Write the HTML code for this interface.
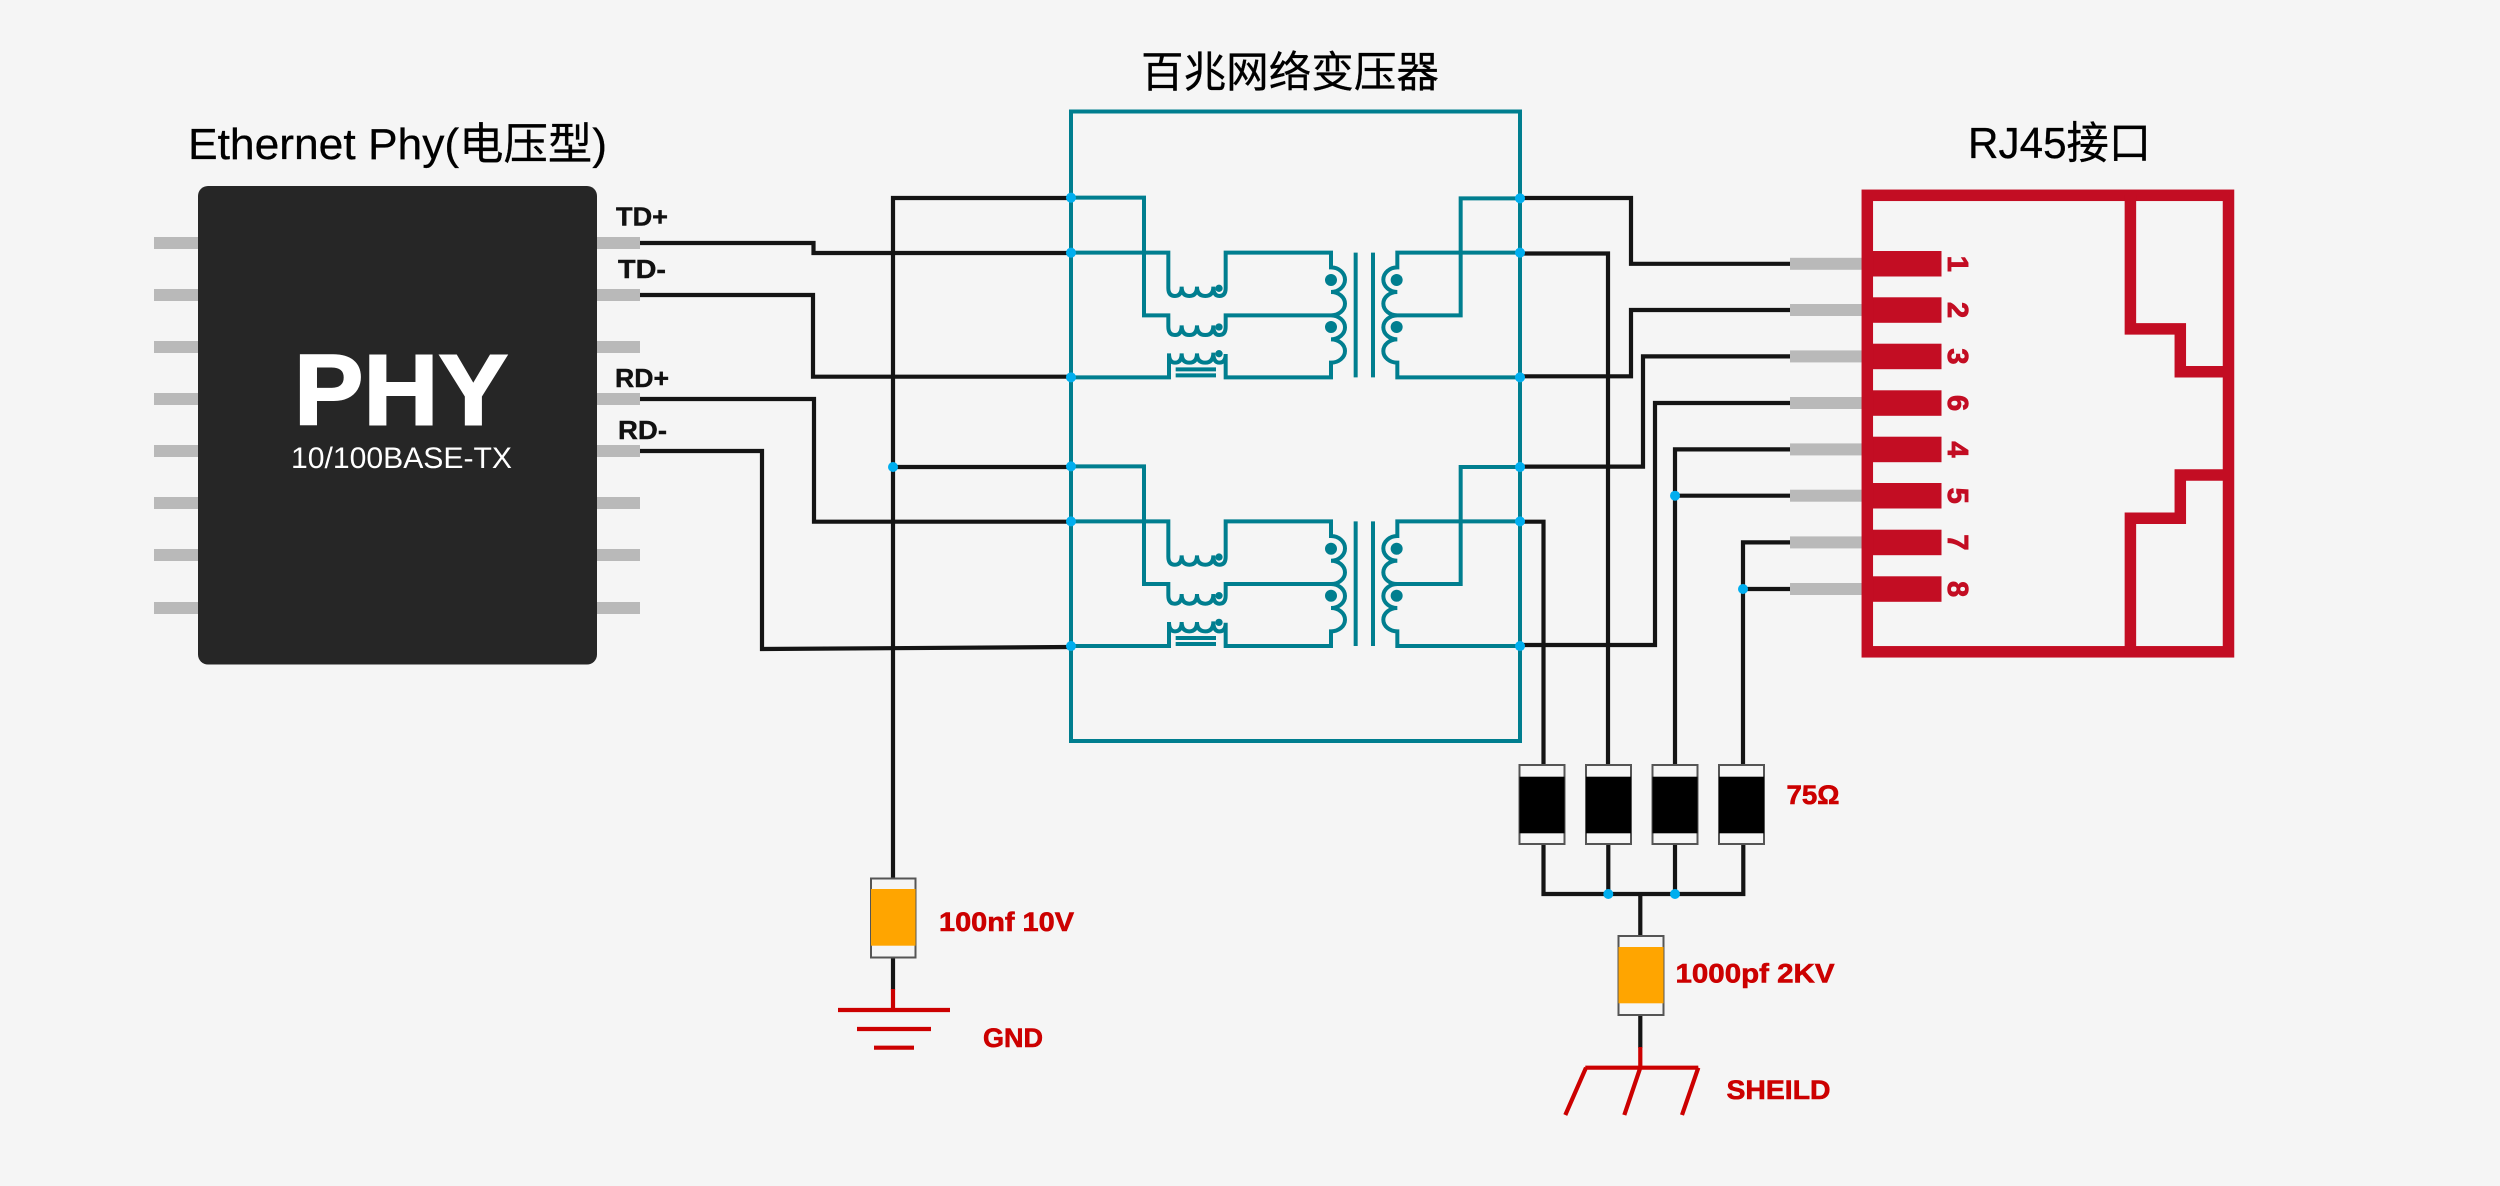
<!DOCTYPE html>
<html lang="zh"><head><meta charset="utf-8"><title>百兆网络变压器</title>
<style>
html,body{margin:0;padding:0;background:#f5f5f5;width:2500px;height:1186px;overflow:hidden}
svg{display:block}
text{font-family:"Liberation Sans","Noto Sans CJK SC",sans-serif}
.t{font-size:44px;fill:#000;stroke:#000;stroke-width:.3}
.b{font-size:26px;font-weight:700;fill:#111;stroke:#111;stroke-width:.4}
.r{font-size:27px;font-weight:700;fill:#cc0000;stroke:#cc0000;stroke-width:.6}
.d{font-size:29px;font-weight:700;fill:#c30d23;stroke:#c30d23;stroke-width:.9;text-anchor:middle}
.w{fill:none;stroke:#141414;stroke-width:4.200}
.p{fill:#b9b9b9}
.c{fill:#f5f5f5;stroke:#555;stroke-width:2}
.k{fill:none;stroke:#cc0000;stroke-width:4.200}
.j{fill:#00aeef}
</style></head><body>
<svg width="2500" height="1186" viewBox="0 0 2500 1186" xmlns="http://www.w3.org/2000/svg">
<rect width="2500" height="1186" fill="#f5f5f5"/>

<text class="t" x="188" y="159" textLength="419" lengthAdjust="spacingAndGlyphs">Ethernet Phy(电压型)</text>
<text class="t" x="1141" y="87" textLength="298" lengthAdjust="spacingAndGlyphs" style="font-size:42.500px">百兆网络变压器</text>
<text class="t" x="1968" y="158" textLength="183" lengthAdjust="spacingAndGlyphs">RJ45接口</text>

<!-- PHY pins -->
<g class="p">
<rect x="154" y="237" width="44" height="12"/><rect x="154" y="289" width="44" height="12"/><rect x="154" y="341" width="44" height="12"/><rect x="154" y="393" width="44" height="12"/><rect x="154" y="445" width="44" height="12"/><rect x="154" y="497" width="44" height="12"/><rect x="154" y="549" width="44" height="12"/><rect x="154" y="602" width="44" height="12"/>
<rect x="597" y="237" width="43" height="12"/><rect x="597" y="289" width="43" height="12"/><rect x="597" y="341" width="43" height="12"/><rect x="597" y="393" width="43" height="12"/><rect x="597" y="445" width="43" height="12"/><rect x="597" y="497" width="43" height="12"/><rect x="597" y="549" width="43" height="12"/><rect x="597" y="602" width="43" height="12"/>
</g>
<rect x="198" y="186" width="399" height="478.500" rx="10" fill="#262626"/>
<text x="294" y="424.500" font-size="100" font-weight="700" fill="#fff" stroke="#fff" stroke-width="2" textLength="214" lengthAdjust="spacingAndGlyphs">PHY</text>
<text x="291" y="468" font-size="30" fill="#fff" textLength="221" lengthAdjust="spacingAndGlyphs">10/100BASE-TX</text>
<text class="b" x="616" y="225.500" textLength="52" lengthAdjust="spacingAndGlyphs">TD+</text>
<text class="b" x="618" y="278" textLength="48" lengthAdjust="spacingAndGlyphs">TD-</text>
<text class="b" x="615" y="387" textLength="54" lengthAdjust="spacingAndGlyphs">RD+</text>
<text class="b" x="618" y="439" textLength="49" lengthAdjust="spacingAndGlyphs">RD-</text>

<!-- black wires -->
<g class="w">
<path d="M640,243H813.500V253H1071"/>
<path d="M640,295H813V376.700H1071"/>
<path d="M640,399H814V521.700H1071"/>
<path d="M640,451H762V649L1071,647"/>
<path d="M1071,198H893V880"/>
<path d="M893,467H1071"/>
<path d="M893,957V990"/>
<path d="M1520,198H1631V263.800H1790"/>
<path d="M1520,253.500H1608V765"/>
<path d="M1790,310H1631V376.300H1520"/>
<path d="M1790,356.400H1643V466.600H1520"/>
<path d="M1790,403H1655V645H1520"/>
<path d="M1790,449.400H1675V765"/>
<path d="M1790,495.700H1675"/>
<path d="M1790,542.400H1743V765"/>
<path d="M1790,589H1743"/>
<path d="M1520,521.700H1543.500V765"/>
<path d="M1543.500,844V894H1743.300V844"/>
<path d="M1608.300,844V894M1675,844V894"/>
<path d="M1640.300,894V936M1640.300,1015V1048"/>
</g>

<!-- transformer box -->
<rect x="1071" y="111.500" width="449" height="629.500" fill="none" stroke="#007e8f" stroke-width="4"/>

<!-- transformer top -->
<g id="tr" transform="translate(1040,170) scale(0.33333)" fill="none" stroke="#007e8f" stroke-width="12">
<path d="M93,83H312V436H385V470Q385,495 405,495Q425,495 425,466Q425,495 448,495Q471,495 471,466Q471,495 496,495Q520,495 520,466Q520,495 538,495Q557,495 557,470V436H873"/>
<path d="M93,248H385V354Q385,378 405,378Q425,378 425,350Q425,378 448,378Q471,378 471,350Q471,378 496,378Q520,378 520,350Q520,378 538,378Q557,378 557,354V248H873V292A42,37 0 0 1 873,366A42,35 0 0 1 873,436A42,36 0 0 1 873,508A42,35 0 0 1 873,578V622H557V552Q557,578 538,578Q520,578 520,548Q520,578 496,578Q471,578 471,550Q471,578 448,578Q425,578 425,550Q425,578 405,578Q387,578 387,550V622H93"/>
<path d="M1440,85H1262V436H1072M1440,248H1072V292A42,37 0 0 0 1072,366A42,35 0 0 0 1072,436A42,36 0 0 0 1072,508A42,35 0 0 0 1072,578V622H1440"/>
<path d="M947,248V622M999,248V622"/>
<path d="M407,598H528M407,616H528"/>
<g fill="#007e8f" stroke="none">
<circle cx="537" cy="355" r="11"/><circle cx="537" cy="471" r="11"/><circle cx="537" cy="551" r="11"/>
<circle cx="873" cy="330" r="18"/><circle cx="873" cy="471" r="18"/><circle cx="1070" cy="330" r="18"/><circle cx="1070" cy="471" r="18"/>
</g>
<g fill="#00aeef" stroke="none">
<circle cx="93" cy="83" r="15"/><circle cx="93" cy="248" r="15"/><circle cx="93" cy="622" r="15"/>
<circle cx="1440" cy="85" r="15"/><circle cx="1440" cy="248" r="15"/><circle cx="1440" cy="622" r="15"/>
</g>
</g>
<!-- transformer bottom -->
<use href="#tr" transform="translate(0,268.700)"/>

<!-- other junctions -->
<g class="j">
<circle cx="893" cy="467" r="5"/>
<circle cx="1675" cy="495.700" r="5"/>
<circle cx="1743" cy="589" r="5"/>
<circle cx="1608.300" cy="894" r="5"/>
<circle cx="1675" cy="894" r="5"/>
</g>

<!-- RJ45 -->
<g class="p">
<rect x="1790" y="257.800" width="72" height="12"/><rect x="1790" y="304" width="72" height="12"/><rect x="1790" y="350.400" width="72" height="12"/><rect x="1790" y="397" width="72" height="12"/><rect x="1790" y="443.400" width="72" height="12"/><rect x="1790" y="489.700" width="72" height="12"/><rect x="1790" y="536.400" width="72" height="12"/><rect x="1790" y="583" width="72" height="12"/>
</g>
<g fill="#c30d23">
<rect x="1866" y="251" width="75.500" height="25.500"/><rect x="1866" y="297.300" width="75.500" height="25.500"/><rect x="1866" y="343.700" width="75.500" height="25.500"/><rect x="1866" y="390.300" width="75.500" height="25.500"/><rect x="1866" y="436.700" width="75.500" height="25.500"/><rect x="1866" y="483" width="75.500" height="25.500"/><rect x="1866" y="529.700" width="75.500" height="25.500"/><rect x="1866" y="576.300" width="75.500" height="25.500"/>
</g>
<g fill="none" stroke="#c30d23" stroke-width="11.500">
<rect x="1867.300" y="195.300" width="361.200" height="456.500"/>
<path d="M2130.400,195V328.900H2180.300V371.700H2228"/>
<path d="M2228,475H2180.300V518.300H2130.400V652"/>
</g>
<text class="d" transform="translate(1948,263.800) rotate(90)">1</text>
<text class="d" transform="translate(1948,310) rotate(90)">2</text>
<text class="d" transform="translate(1948,356.400) rotate(90)">3</text>
<text class="d" transform="translate(1948,403) rotate(90)">6</text>
<text class="d" transform="translate(1948,449.400) rotate(90)">4</text>
<text class="d" transform="translate(1948,495.700) rotate(90)">5</text>
<text class="d" transform="translate(1948,542.400) rotate(90)">7</text>
<text class="d" transform="translate(1948,589) rotate(90)">8</text>

<!-- resistors -->
<rect class="c" x="1519.500" y="765" width="45" height="79"/><rect x="1519.500" y="776.700" width="45" height="56.600" fill="#000"/>
<rect class="c" x="1586" y="765" width="45" height="79"/><rect x="1586" y="776.700" width="45" height="56.600" fill="#000"/>
<rect class="c" x="1652.500" y="765" width="45" height="79"/><rect x="1652.500" y="776.700" width="45" height="56.600" fill="#000"/>
<rect class="c" x="1719" y="765" width="45" height="79"/><rect x="1719" y="776.700" width="45" height="56.600" fill="#000"/>

<!-- capacitors -->
<rect class="c" x="871" y="878.500" width="44.500" height="79"/><rect x="871" y="889" width="44.500" height="56.700" fill="#ffa500"/>
<rect class="c" x="1618.500" y="936" width="45" height="79"/><rect x="1618.500" y="947" width="45" height="56.300" fill="#ffa500"/>

<!-- ground -->
<path class="k" d="M893,989V1010M838,1010H950M857,1029H931M874,1047.700H914"/>
<path class="k" d="M1640.300,1047V1068M1585.300,1067.700H1698.300M1586,1067.700L1565.300,1115M1640.300,1067.700L1624.300,1115M1698.300,1067.700L1682,1115"/>

<!-- red labels -->
<text class="r" x="939" y="931" textLength="135" lengthAdjust="spacingAndGlyphs">100nf 10V</text>
<text class="r" x="983" y="1047" textLength="60" lengthAdjust="spacingAndGlyphs">GND</text>
<text class="r" x="1786.500" y="804" textLength="53" lengthAdjust="spacingAndGlyphs">75Ω</text>
<text class="r" x="1675.500" y="982.300" textLength="159" lengthAdjust="spacingAndGlyphs">1000pf 2KV</text>
<text class="r" x="1726.500" y="1099" textLength="104" lengthAdjust="spacingAndGlyphs">SHEILD</text>
</svg>
</body></html>
